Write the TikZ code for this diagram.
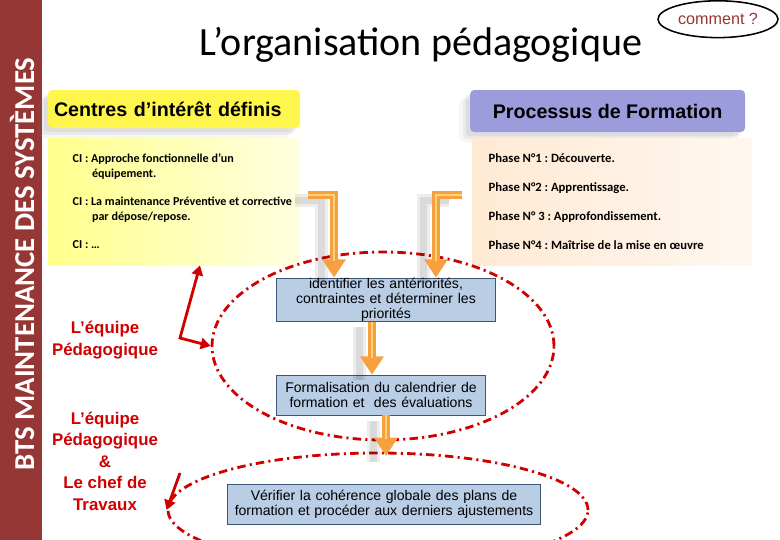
\documentclass[tikz,border=0pt]{standalone}
\usepackage{fontspec}
\setmainfont{Carlito}
\setsansfont{Liberation Sans}
\usepackage{tikz}
\usetikzlibrary{arrows.meta,shapes.geometric,shadows}
\definecolor{bordeaux}{HTML}{953735}
\definecolor{rougevif}{HTML}{D00000}
\definecolor{lavande}{HTML}{9C9CDC}
\definecolor{bleuboite}{HTML}{B9CDE5}
\definecolor{bordbleu}{HTML}{3B5677}
\definecolor{orangef}{HTML}{F7A040}
\definecolor{orangeclair}{HTML}{FCD27A}
\frenchspacing

\begin{document}
\begin{tikzpicture}[
        titre/.style={rounded corners=3pt, inner xsep=0.15cm, font=\sffamily\bfseries\fontsize{14}{16}\selectfont,
            drop shadow={shadow xshift=-3pt, shadow yshift=-3pt, opacity=0.12},
            drop shadow={shadow xshift=-5pt, shadow yshift=-5pt, opacity=0.1},
            drop shadow={shadow xshift=-8pt, shadow yshift=-7pt, opacity=0.07}},
        contenu/.style={minimum width=#1, minimum height=3.175cm},
        lignes/.style={anchor=west, align=left, font=\bfseries\fontsize{#1}{10}\selectfont},
        etape/.style={draw=bordbleu, fill=bleuboite, align=center, inner ysep=0pt, minimum height=1.0cm,
            font=\sffamily\fontsize{10}{10.7}\selectfont},
        equipe/.style={text=rougevif, align=center, font=\sffamily\bfseries\fontsize{12}{15.3}\selectfont},
        boucle/.style={ellipse, draw=rougevif, line width=2pt, dash pattern=on 6pt off 3pt on 1.5pt off 3pt},
        fleche/.style={draw=orangef, line width=5.5pt, -{Triangle[length=13pt,width=16pt]},
            preaction={draw=black, opacity=0.07, line width=9pt, -, transform canvas={xshift=-9pt, yshift=-4pt}},
            preaction={draw=black, opacity=0.08, line width=5pt, -, transform canvas={xshift=-9pt, yshift=-4pt}},
            postaction={draw=orangeclair, line width=2pt, -, shorten >=12pt}},
        flecherouge/.style={draw=rougevif, line width=2pt}
    ]
        \clip (0,0) rectangle (19.5,-13.5);

        % bandeau et titre
        \fill[bordeaux] (0,0) rectangle (1.05,-13.5);
        \node[rotate=90, text=white, font=\bfseries\fontsize{20.5}{22}\selectfont] (bandeau) at (0.55,-6.6) {BTS MAINTENANCE DES SYSTÈMES};
        \node[font=\fontsize{28.5}{30}\selectfont] (titre) at (10.525,-1.12) {L’organisation pédagogique};
        \node[draw, ellipse, line width=1.1pt, minimum width=3cm, minimum height=0.92cm, inner sep=0pt, text=bordeaux,
            font=\sffamily\fontsize{11.5}{13}\selectfont] (comment) at (17.95,-0.48) {comment ?};

        % Centres d'interet
        \node[titre, fill=yellow!70, text width=6.0cm, minimum height=0.95cm, align=left] (cih) at (4.35,-2.725) {Centres d’intérêt définis};
        \node[contenu=6.3cm, left color=yellow!45, right color=yellow!12] (ci) at (4.35,-5.04) {};
        \node[lignes=8.6] (citexte) at ([xshift=0.5cm]ci.west)
            {CI : Approche fonctionnelle d’un\\\hspace*{1.6em}équipement.\\[10.6pt]
             CI : La maintenance Préventive et corrective\\\hspace*{1.6em}par dépose/repose.\\[10.6pt]
             CI : …};

        % Processus de formation
        \node[titre, fill=lavande, minimum width=6.875cm, minimum height=1.05cm] (pfh) at (15.19,-2.775) {Processus de Formation};
        \node[contenu=7.0cm, left color=orange!17, right color=orange!6] (pf) at (15.3,-5.04) {};
        \node[lignes=9] (pftexte) at ([xshift=0.3cm]pf.west)
            {Phase N°1 : Découverte.\\[10.6pt]
             Phase N°2 : Apprentissage.\\[10.6pt]
             Phase N° 3 : Approfondissement.\\[10.6pt]
             Phase N°4 : Maîtrise de la mise en œuvre};

        % boucles
        \node[boucle, minimum width=8.55cm, minimum height=4.7cm] (boucle1) at (9.575,-8.65) {};
        \node[boucle, minimum width=10.5cm, minimum height=2.85cm] (boucle2) at (9.45,-12.75) {};

        % etapes
        \node[etape, text width=5.25cm, minimum width=5.45cm] (e1) at (9.65,-7.49) {identifier les antériorités,\\contraintes et déterminer les\\priorités};
        \node[etape, text width=5.0cm, minimum width=5.2cm] (e2) at (9.525,-9.875) {Formalisation du calendrier de\\formation et~ des évaluations};
        \node[etape, text width=7.6cm, minimum width=7.8cm] (e3) at (9.6,-12.61) {Vérifier la cohérence globale des plans de\\formation et procéder aux derniers ajustements};

        % fleches oranges
        \coordinate (depA) at (7.7,-4.875);
        \coordinate (depB) at (11.55,-4.875);
        \coordinate (finD) at (9.65,-11.4);
        \draw[fleche] (depA) -| ([xshift=1.45cm]e1.north west);
        \draw[fleche] (depB) -| ([xshift=-1.5cm]e1.north east);
        \draw[fleche] ([xshift=-0.35cm]e1.south) -- ([xshift=-0.35cm]e1.south |- e2.north);
        \draw[fleche] ([xshift=0.125cm]e2.south) -- (finD);

        % equipes
        \node[equipe] (eq1) at (2.625,-8.5) {L’équipe\\Pédagogique};
        \node[equipe] (eq2) at (2.625,-11.525) {L’équipe\\Pédagogique\\\&\\Le chef de\\Travaux};
        \coordinate (coin) at (4.5,-8.45);
        \coordinate (dep2) at (4.5,-11.825);
        \draw[flecherouge, {Triangle[length=7pt,width=8pt]}-{Triangle[length=7pt,width=8pt]}] ([xshift=0.65cm]ci.south) -- (coin) -- (boucle1.west);
        \draw[flecherouge, -{Triangle[length=7pt,width=8pt]}] (dep2) -- (boucle2.west);
    \end{tikzpicture}
\end{document}
